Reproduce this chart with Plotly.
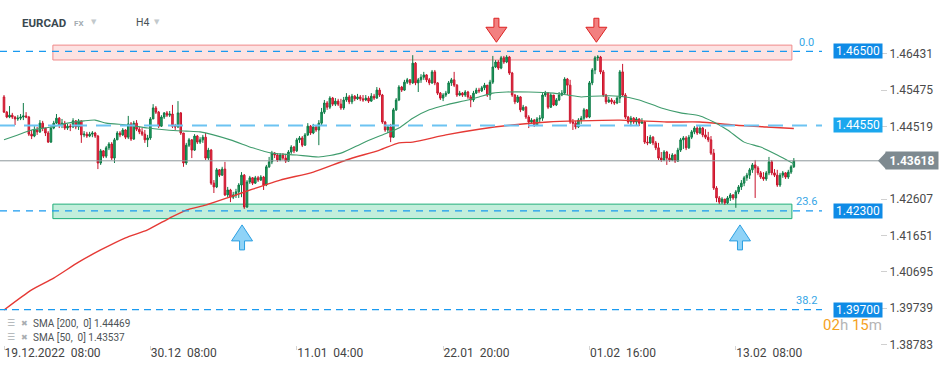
import plotly.graph_objects as go

# ---------------- data (EURCAD, H4) ----------------
first_open = 1.4530
close = [
    1.4490, 1.4477, 1.4482, 1.4477, 1.4472, 1.4474, 1.4477, 1.4480, 1.4477, 1.4432,
    1.4427, 1.4443, 1.4438, 1.4461, 1.4448, 1.4435, 1.4411, 1.4448, 1.4461, 1.4474,
    1.4456, 1.4461, 1.4448, 1.4453, 1.4451, 1.4467, 1.4451, 1.4467, 1.4430, 1.4432,
    1.4427, 1.4432, 1.4435, 1.4427, 1.4356, 1.4388, 1.4374, 1.4396, 1.4406, 1.4369,
    1.4417, 1.4435, 1.4430, 1.4443, 1.4424, 1.4459, 1.4419, 1.4461, 1.4445, 1.4438,
    1.4432, 1.4417, 1.4422, 1.4472, 1.4501, 1.4490, 1.4453, 1.4477, 1.4488, 1.4482,
    1.4485, 1.4453, 1.4451, 1.4488, 1.4435, 1.4356, 1.4403, 1.4417, 1.4390, 1.4427,
    1.4411, 1.4417, 1.4424, 1.4369, 1.4390, 1.4303, 1.4293, 1.4338, 1.4324, 1.4340,
    1.4272, 1.4285, 1.4266, 1.4272, 1.4280, 1.4298, 1.4324, 1.4240, 1.4306, 1.4317,
    1.4303, 1.4317, 1.4311, 1.4319, 1.4298, 1.4346, 1.4359, 1.4382, 1.4377, 1.4364,
    1.4377, 1.4369, 1.4361, 1.4385, 1.4398, 1.4388, 1.4417, 1.4422, 1.4403, 1.4430,
    1.4453, 1.4435, 1.4451, 1.4443, 1.4461, 1.4490, 1.4514, 1.4503, 1.4527, 1.4511,
    1.4519, 1.4511, 1.4501, 1.4522, 1.4530, 1.4517, 1.4532, 1.4525, 1.4530, 1.4525,
    1.4522, 1.4527, 1.4519, 1.4532, 1.4527, 1.4548, 1.4535, 1.4464, 1.4443, 1.4451,
    1.4424, 1.4496, 1.4522, 1.4556, 1.4548, 1.4569, 1.4575, 1.4567, 1.4619, 1.4567,
    1.4575, 1.4582, 1.4588, 1.4575, 1.4567, 1.4596, 1.4567, 1.4540, 1.4527, 1.4535,
    1.4540, 1.4567, 1.4575, 1.4561, 1.4535, 1.4540, 1.4535, 1.4543, 1.4530, 1.4522,
    1.4540, 1.4548, 1.4546, 1.4554, 1.4561, 1.4535, 1.4569, 1.4609, 1.4622, 1.4606,
    1.4633, 1.4622, 1.4635, 1.4593, 1.4535, 1.4517, 1.4530, 1.4496, 1.4503, 1.4477,
    1.4464, 1.4469, 1.4456, 1.4472, 1.4474, 1.4535, 1.4540, 1.4503, 1.4535, 1.4509,
    1.4522, 1.4535, 1.4540, 1.4577, 1.4561, 1.4464, 1.4461, 1.4451, 1.4469, 1.4474,
    1.4496, 1.4477, 1.4567, 1.4601, 1.4633, 1.4635, 1.4596, 1.4535, 1.4517, 1.4522,
    1.4517, 1.4514, 1.4527, 1.4596, 1.4535, 1.4477, 1.4464, 1.4474, 1.4464, 1.4472,
    1.4461, 1.4464, 1.4411, 1.4409, 1.4424, 1.4409, 1.4396, 1.4369, 1.4364, 1.4385,
    1.4369, 1.4364, 1.4377, 1.4361, 1.4390, 1.4417, 1.4422, 1.4396, 1.4424, 1.4438,
    1.4448, 1.4435, 1.4448, 1.4430, 1.4424, 1.4417, 1.4382, 1.4290, 1.4264, 1.4253,
    1.4261, 1.4251, 1.4264, 1.4272, 1.4264, 1.4280, 1.4293, 1.4303, 1.4317, 1.4324,
    1.4338, 1.4351, 1.4343, 1.4330, 1.4319, 1.4314, 1.4330, 1.4359, 1.4330, 1.4324,
    1.4298, 1.4324, 1.4330, 1.4319, 1.4332, 1.4346, 1.43618,
]
high = [
    1.4535, 1.4493, 1.4506, 1.4488, 1.4480, 1.4482, 1.4485, 1.4514, 1.4490, 1.4480,
    1.4443, 1.4453, 1.4451, 1.4469, 1.4467, 1.4448, 1.4440, 1.4453, 1.4467, 1.4485,
    1.4477, 1.4472, 1.4467, 1.4459, 1.4459, 1.4474, 1.4469, 1.4472, 1.4467, 1.4440,
    1.4438, 1.4438, 1.4440, 1.4438, 1.4430, 1.4393, 1.4390, 1.4401, 1.4411, 1.4411,
    1.4422, 1.4440, 1.4440, 1.4448, 1.4445, 1.4480, 1.4464, 1.4467, 1.4469, 1.4451,
    1.4448, 1.4443, 1.4430, 1.4477, 1.4511, 1.4506, 1.4493, 1.4482, 1.4490, 1.4493,
    1.4493, 1.4509, 1.4459, 1.4519, 1.4490, 1.4435, 1.4409, 1.4422, 1.4419, 1.4432,
    1.4430, 1.4424, 1.4430, 1.4435, 1.4396, 1.4393, 1.4311, 1.4343, 1.4340, 1.4346,
    1.4359, 1.4293, 1.4288, 1.4280, 1.4288, 1.4303, 1.4332, 1.4327, 1.4311, 1.4322,
    1.4319, 1.4322, 1.4322, 1.4324, 1.4322, 1.4351, 1.4372, 1.4388, 1.4385, 1.4382,
    1.4382, 1.4382, 1.4380, 1.4390, 1.4403, 1.4401, 1.4422, 1.4427, 1.4427, 1.4435,
    1.4461, 1.4456, 1.4459, 1.4456, 1.4469, 1.4501, 1.4522, 1.4519, 1.4532, 1.4530,
    1.4527, 1.4525, 1.4525, 1.4530, 1.4540, 1.4535, 1.4538, 1.4535, 1.4538, 1.4535,
    1.4535, 1.4535, 1.4532, 1.4540, 1.4538, 1.4556, 1.4554, 1.4538, 1.4467, 1.4456,
    1.4459, 1.4501, 1.4527, 1.4561, 1.4559, 1.4575, 1.4580, 1.4577, 1.4640, 1.4622,
    1.4580, 1.4590, 1.4596, 1.4590, 1.4580, 1.4601, 1.4601, 1.4569, 1.4543, 1.4540,
    1.4546, 1.4572, 1.4580, 1.4596, 1.4564, 1.4546, 1.4543, 1.4548, 1.4546, 1.4535,
    1.4546, 1.4554, 1.4554, 1.4559, 1.4567, 1.4559, 1.4575, 1.4638, 1.4627, 1.4627,
    1.4638, 1.4638, 1.4640, 1.4638, 1.4596, 1.4538, 1.4535, 1.4532, 1.4509, 1.4506,
    1.4482, 1.4474, 1.4472, 1.4477, 1.4482, 1.4540, 1.4546, 1.4543, 1.4540, 1.4527,
    1.4527, 1.4543, 1.4548, 1.4582, 1.4580, 1.4575, 1.4472, 1.4467, 1.4474, 1.4480,
    1.4501, 1.4498, 1.4572, 1.4606, 1.4638, 1.4640, 1.4638, 1.4601, 1.4538, 1.4530,
    1.4527, 1.4522, 1.4532, 1.4601, 1.4617, 1.4540, 1.4480, 1.4480, 1.4477, 1.4477,
    1.4474, 1.4474, 1.4467, 1.4427, 1.4430, 1.4427, 1.4414, 1.4409, 1.4385, 1.4390,
    1.4388, 1.4380, 1.4382, 1.4380, 1.4396, 1.4422, 1.4427, 1.4427, 1.4430, 1.4443,
    1.4453, 1.4453, 1.4456, 1.4451, 1.4445, 1.4438, 1.4427, 1.4393, 1.4295, 1.4269,
    1.4266, 1.4261, 1.4269, 1.4277, 1.4274, 1.4285, 1.4298, 1.4311, 1.4322, 1.4330,
    1.4343, 1.4356, 1.4364, 1.4348, 1.4335, 1.4332, 1.4335, 1.4372, 1.4364, 1.4340,
    1.4338, 1.4330, 1.4335, 1.4332, 1.4338, 1.4351, 1.4369,
]
low = [
    1.4488, 1.4474, 1.4474, 1.4472, 1.4456, 1.4467, 1.4469, 1.4469, 1.4474, 1.4427,
    1.4419, 1.4424, 1.4430, 1.4435, 1.4440, 1.4427, 1.4409, 1.4409, 1.4445, 1.4459,
    1.4448, 1.4448, 1.4443, 1.4443, 1.4440, 1.4448, 1.4445, 1.4443, 1.4409, 1.4424,
    1.4422, 1.4424, 1.4424, 1.4422, 1.4340, 1.4351, 1.4369, 1.4369, 1.4390, 1.4364,
    1.4356, 1.4417, 1.4424, 1.4427, 1.4419, 1.4419, 1.4414, 1.4417, 1.4440, 1.4432,
    1.4427, 1.4409, 1.4398, 1.4417, 1.4472, 1.4485, 1.4448, 1.4451, 1.4472, 1.4477,
    1.4477, 1.4448, 1.4443, 1.4448, 1.4430, 1.4346, 1.4351, 1.4398, 1.4369, 1.4388,
    1.4406, 1.4406, 1.4409, 1.4364, 1.4364, 1.4298, 1.4277, 1.4290, 1.4319, 1.4322,
    1.4269, 1.4266, 1.4253, 1.4261, 1.4264, 1.4264, 1.4266, 1.4235, 1.4238, 1.4301,
    1.4298, 1.4301, 1.4306, 1.4309, 1.4285, 1.4295, 1.4343, 1.4353, 1.4369, 1.4359,
    1.4361, 1.4364, 1.4356, 1.4359, 1.4380, 1.4382, 1.4385, 1.4409, 1.4398, 1.4401,
    1.4427, 1.4430, 1.4432, 1.4438, 1.4403, 1.4456, 1.4485, 1.4496, 1.4498, 1.4506,
    1.4506, 1.4506, 1.4496, 1.4496, 1.4517, 1.4511, 1.4511, 1.4519, 1.4522, 1.4519,
    1.4517, 1.4519, 1.4514, 1.4517, 1.4522, 1.4525, 1.4530, 1.4459, 1.4438, 1.4435,
    1.4411, 1.4422, 1.4493, 1.4519, 1.4543, 1.4546, 1.4564, 1.4561, 1.4564, 1.4561,
    1.4543, 1.4567, 1.4575, 1.4569, 1.4561, 1.4564, 1.4561, 1.4535, 1.4522, 1.4519,
    1.4530, 1.4538, 1.4559, 1.4556, 1.4530, 1.4532, 1.4530, 1.4530, 1.4525, 1.4503,
    1.4517, 1.4538, 1.4540, 1.4543, 1.4548, 1.4530, 1.4522, 1.4564, 1.4606, 1.4601,
    1.4603, 1.4617, 1.4619, 1.4588, 1.4530, 1.4511, 1.4514, 1.4490, 1.4493, 1.4472,
    1.4448, 1.4459, 1.4451, 1.4453, 1.4464, 1.4467, 1.4530, 1.4498, 1.4501, 1.4506,
    1.4506, 1.4519, 1.4532, 1.4538, 1.4535, 1.4459, 1.4443, 1.4445, 1.4448, 1.4459,
    1.4469, 1.4474, 1.4474, 1.4561, 1.4590, 1.4625, 1.4590, 1.4530, 1.4511, 1.4514,
    1.4511, 1.4509, 1.4511, 1.4514, 1.4530, 1.4472, 1.4459, 1.4453, 1.4459, 1.4456,
    1.4453, 1.4459, 1.4406, 1.4403, 1.4406, 1.4403, 1.4390, 1.4364, 1.4359, 1.4361,
    1.4351, 1.4359, 1.4361, 1.4356, 1.4359, 1.4385, 1.4393, 1.4390, 1.4393, 1.4419,
    1.4432, 1.4430, 1.4432, 1.4424, 1.4419, 1.4411, 1.4377, 1.4285, 1.4253, 1.4248,
    1.4248, 1.4246, 1.4248, 1.4256, 1.4259, 1.4238, 1.4274, 1.4285, 1.4295, 1.4309,
    1.4314, 1.4330, 1.4264, 1.4324, 1.4314, 1.4309, 1.4309, 1.4324, 1.4324, 1.4319,
    1.4293, 1.4293, 1.4317, 1.4314, 1.4314, 1.4327, 1.4343,
]
open_ = [first_open] + close[:-1]
bar = list(range(len(close)))

time_tick_bars = [0, 53, 106, 159, 212, 265]
time_tick_text = ["19.12.2022  08:00", "30.12  08:00", "11.01  04:00",
                  "22.01  20:00", "01.02  16:00", "13.02  08:00"]
price_ticks = [1.46431, 1.45475, 1.44519, 1.42607, 1.41651, 1.40695, 1.39739, 1.38783]

sma200_bar = [0, 10, 18, 27, 35, 44, 52, 60, 66, 73, 82, 90, 100, 112, 124, 136, 143,
              148, 160, 172, 184, 197, 208, 223, 240, 252, 264, 276, 286]
sma200_val = [1.3969, 1.4022, 1.4053, 1.4095, 1.4127, 1.4159, 1.4180, 1.4211, 1.4232,
              1.4245, 1.4267, 1.4287, 1.4311, 1.4332, 1.4364, 1.4390, 1.4409, 1.4411,
              1.4430, 1.4445, 1.4456, 1.4464, 1.4467, 1.4469, 1.4464, 1.4464, 1.4456,
              1.4451, 1.44469]
sma50_bar = [0, 5, 10, 17, 23, 29, 33, 37, 45, 52, 59, 66, 71, 82, 90, 97, 106, 114,
             122, 130, 137, 143, 148, 154, 160, 168, 172, 177, 182, 190, 199, 204, 209,
             213, 223, 230, 238, 245, 252, 257, 262, 268, 274, 280, 286]
sma50_val = [1.4417, 1.4430, 1.4443, 1.4451, 1.4461, 1.4467, 1.4469, 1.4461, 1.4456,
             1.4448, 1.4443, 1.4440, 1.4438, 1.4417, 1.4396, 1.4382, 1.4377, 1.4372,
             1.4382, 1.4409, 1.4430, 1.4448, 1.4474, 1.4496, 1.4509, 1.4522, 1.4530,
             1.4540, 1.4543, 1.4543, 1.4540, 1.4535, 1.4530, 1.4532, 1.4532, 1.4522,
             1.4501, 1.4488, 1.4480, 1.4464, 1.4443, 1.4411, 1.4398, 1.4377, 1.43537]

levels = [1.46500, 1.44550, 1.42300, 1.39700]
level_labels = ["1.46500", "1.44550", "1.42300", "1.39700"]
fib_levels = [1.46500, 1.42300, 1.39700]
fib_labels = ["0.0", "23.6", "38.2"]
last_price = 1.43618
resistance_zone = [1.46273, 1.46665]
support_zone = [1.42095, 1.42477]
zone_bars = [17.7, 285.3]
down_arrow_at = [(178.3, 1.4674), (214.5, 1.4674)]
up_arrow_at = [(86.2, 1.4193), (266.5, 1.4193)]

FONT = "Roboto, 'Open Sans', Arial, sans-serif"
W, H = 949, 370
ML, MR, MT, MB = 0, 69, 0, 25
PW = W - ML - MR
PH = H - MT - MB


def px_x(px):
    return px / PW


def px_y(py):
    return (PH - py) / PH


fig = go.Figure()
fig.add_trace(go.Candlestick(
    x=bar, open=open_, high=high, low=low, close=close,
    increasing=dict(line=dict(color="#0d7a45", width=1), fillcolor="#22a565"),
    decreasing=dict(line=dict(color="#c8142c", width=1), fillcolor="#ee3346"),
    whiskerwidth=0, showlegend=False, hoverinfo="skip"))
fig.add_trace(go.Scatter(x=sma200_bar, y=sma200_val, mode="lines",
                         line=dict(color="#e53935", width=1.4, shape="spline", smoothing=0.6),
                         showlegend=False, hoverinfo="skip"))
fig.add_trace(go.Scatter(x=sma50_bar, y=sma50_val, mode="lines",
                         line=dict(color="#3f9c6d", width=1.1, shape="spline", smoothing=0.6),
                         showlegend=False, hoverinfo="skip"))

shapes = []
shapes.append(dict(type="rect", xref="x", yref="y", x0=zone_bars[0], x1=zone_bars[1],
                   y0=resistance_zone[0], y1=resistance_zone[1], fillcolor="#fde2e2",
                   line=dict(color="#f08a8a", width=1), layer="below"))
shapes.append(dict(type="rect", xref="x", yref="y", x0=zone_bars[0], x1=zone_bars[1],
                   y0=support_zone[0], y1=support_zone[1], fillcolor="#c2eedb",
                   line=dict(color="#1fae78", width=1), layer="below"))
line_styles = {
    1.46500: dict(color="#1a9af0", width=1.2, dash="7px,6px"),
    1.44550: dict(color="#6cc3f2", width=2, dash="15px,9px"),
    1.42300: dict(color="#1a9af0", width=1.2, dash="7px,6px"),
    1.39700: dict(color="#1a9af0", width=1.2, dash="7px,5px"),
}
for lv in levels:
    shapes.append(dict(type="line", xref="paper", yref="y", x0=0, x1=px_x(822),
                       y0=lv, y1=lv, line=line_styles[lv], layer="above"))
shapes.append(dict(type="line", xref="paper", yref="y", x0=0, x1=1, y0=last_price,
                   y1=last_price, line=dict(color="#8c969b", width=1), layer="above"))
# last price label arrow
shapes.append(dict(type="path", xref="paper", yref="y", ysizemode="pixel", yanchor=last_price,
                   path=f"M{px_x(878)},0 L{px_x(886)},8.5 L{px_x(886)},-8.5 Z",
                   fillcolor="#7e8a90", line=dict(width=0)))
down_path = "M0,0 L-10.5,15 L-2.5,15 L-2.5,24 L2.5,24 L2.5,15 L10.5,15 Z"
up_path = "M0,0 L-10.5,-16 L-2.5,-16 L-2.5,-25 L2.5,-25 L2.5,-16 L10.5,-16 Z"
for bx, py in down_arrow_at:
    shapes.append(dict(type="path", xref="x", yref="y", xsizemode="pixel", ysizemode="pixel",
                       xanchor=bx, yanchor=py, path=down_path, fillcolor="#f28080",
                       line=dict(color="#dc2222", width=1)))
for bx, py in up_arrow_at:
    shapes.append(dict(type="path", xref="x", yref="y", xsizemode="pixel", ysizemode="pixel",
                       xanchor=bx, yanchor=py, path=up_path, fillcolor="#8fd3f7",
                       line=dict(color="#2b9fe2", width=1)))

ann = []
box_colors = {1.46500: "#0f8be6", 1.44550: "#1ba7ee", 1.42300: "#0f8be6", 1.39700: "#0f8be6"}
for lv, txt in zip(levels, level_labels):
    ann.append(dict(xref="paper", yref="y", x=px_x(833), y=lv, xanchor="left", yanchor="middle",
                    text=txt, showarrow=False, bgcolor=box_colors[lv], width=46, height=12,
                    borderpad=1, font=dict(family=FONT, size=12, color="white")))
for lv, txt in zip(fib_levels, fib_labels):
    ann.append(dict(xref="paper", yref="y", x=px_x(806), y=lv, yshift=9, xanchor="center",
                    yanchor="middle", text=txt, showarrow=False,
                    font=dict(family=FONT, size=11, color="#36a6e6")))
ann.append(dict(xref="paper", yref="y", x=px_x(885), y=last_price, xanchor="left",
                yanchor="middle", text="<b>1.43618</b>", showarrow=False, bgcolor="#7e8a90",
                width=50, height=15, borderpad=1, font=dict(family=FONT, size=12, color="white")))
# header
ann.append(dict(xref="paper", yref="paper", x=px_x(20), y=px_y(23), xanchor="left",
                yanchor="middle", text="<b>EURCAD</b>", showarrow=False,
                font=dict(family=FONT, size=11.5, color="#3a4850")))
ann.append(dict(xref="paper", yref="paper", x=px_x(72), y=px_y(23.5), xanchor="left",
                yanchor="middle", text="<b>FX</b>", showarrow=False,
                font=dict(family=FONT, size=8, color="#a3acb1")))
ann.append(dict(xref="paper", yref="paper", x=px_x(134), y=px_y(23), xanchor="left",
                yanchor="middle", text="H4", showarrow=False,
                font=dict(family=FONT, size=10.5, color="#4a5257")))
for tx in (89, 152):
    ann.append(dict(xref="paper", yref="paper", x=px_x(tx), y=px_y(22.5), xanchor="left",
                    yanchor="middle", text="▼", showarrow=False,
                    font=dict(family="DejaVu Sans", size=7, color="#c3c9cc")))
# indicator legend
for row_y, txt in ((323, "SMA [200,  0] 1.44469"), (337, "SMA [50,  0] 1.43537")):
    ann.append(dict(xref="paper", yref="paper", x=px_x(5), y=px_y(row_y), xanchor="left",
                    yanchor="middle", text="☰", showarrow=False,
                    font=dict(family="DejaVu Sans", size=9, color="#a9aeb1")))
    ann.append(dict(xref="paper", yref="paper", x=px_x(19), y=px_y(row_y), xanchor="left",
                    yanchor="middle", text="✖", showarrow=False,
                    font=dict(family="DejaVu Sans", size=8, color="#a9aeb1")))
    ann.append(dict(xref="paper", yref="paper", x=px_x(31), y=px_y(row_y), xanchor="left",
                    yanchor="middle", text=txt.replace("  ", "\u00a0\u00a0"), showarrow=False,
                    font=dict(family=FONT, size=10, color="#4d5356")))
# candle timer
ann.append(dict(xref="paper", yref="paper", x=px_x(821), y=px_y(325), xanchor="left",
                yanchor="middle", showarrow=False,
                text=('<span style="color:#f5a21e">02</span><span style="color:#b5b5b5">h</span> '
                      '<span style="color:#f5a21e">15</span><span style="color:#b5b5b5">m</span>'),
                font=dict(family=FONT, size=15)))

fig.update_layout(
    width=W, height=H, margin=dict(l=ML, r=MR, t=MT, b=MB),
    paper_bgcolor="white", plot_bgcolor="white", showlegend=False,
    boxgap=0.2, shapes=shapes, annotations=ann, hovermode=False,
    font=dict(family=FONT),
    xaxis=dict(range=[-1.45, 317.2], showgrid=False, zeroline=False, showline=False,
               rangeslider=dict(visible=False), tickmode="array", tickvals=time_tick_bars,
               ticktext=[t.replace("  ", "\u00a0\u00a0") for t in time_tick_text],
               ticks="outside", ticklen=4, tickcolor="#d5d5d5",
               ticklabelposition="outside right", ticklabelstandoff=-3,
               tickfont=dict(family=FONT, size=12, color="#444")),
    yaxis=dict(range=[1.38767, 1.47853], side="right", showgrid=False, zeroline=False,
               showline=False, tickmode="array", tickvals=price_ticks,
               ticktext=[f"{v:.5f}" for v in price_ticks], ticks="outside", ticklen=6,
               tickcolor="#d0d0d0", tickfont=dict(family=FONT, size=12, color="#4a4a4a")),
)
fig.write_html("out.html", config={"displayModeBar": False},
               post_script="document.body.style.margin='0';document.body.style.overflow='hidden';")
